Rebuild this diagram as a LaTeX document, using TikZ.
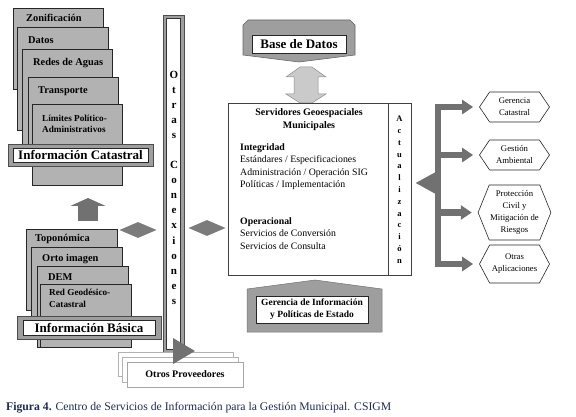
\documentclass[tikz,border=0pt]{standalone}
\usepackage[dvipsnames]{xcolor}
\usepackage{fontspec}
\setmainfont{Liberation Serif}
\usepackage{tikz}
\usetikzlibrary{positioning,calc,arrows.meta}
\usetikzlibrary{shapes.geometric,shapes.symbols}
\definecolor{cardgray}{HTML}{B2B2B2}
\definecolor{bandgray}{HTML}{9E9E9E}
\definecolor{arrowgray}{HTML}{717171}
\definecolor{gemgray}{HTML}{7B7B7B}
\definecolor{palegray}{HTML}{CACACA}
\definecolor{capblue}{HTML}{1F2A55}

\begin{document}
\begin{tikzpicture}[x=1pt,y=-1pt,
  card/.style={draw=black!85,fill=cardgray,line width=0.7pt,anchor=north west,inner sep=0pt},
  cardtext/.style={anchor=west,inner sep=0pt,font=\fontsize{10.4}{11}\selectfont\bfseries},
  smalltext/.style={anchor=west,inner sep=0pt,align=left,font=\fontsize{9.2}{11.5}\selectfont\bfseries},
  band/.style={draw=black!70,fill=bandgray,line width=0.6pt,inner sep=0pt},
  plate/.style={draw=black!85,fill=white,line width=0.6pt,inner sep=0pt,font=\fontsize{13}{14}\selectfont\bfseries},
  gem/.style={diamond,fill=gemgray,inner sep=0pt,minimum width=37pt,minimum height=16pt},
  vletter/.style={anchor=base,inner sep=0pt,font=\fontsize{11}{11}\selectfont\bfseries},
  body/.style={anchor=west,inner sep=0pt,align=left,font=\fontsize{9.8}{12.4}\selectfont},
  branch/.style={draw=arrowgray,line width=6pt,-{Triangle[width=14pt,length=11pt]},shorten >=6pt},
  hexa/.style={signal,signal to=west and east,draw=black!85,line width=0.6pt,fill=white,
    minimum width=70pt,align=center,inner sep=1pt,font=\fontsize{8.7}{12}\selectfont}]
\useasboundingbox (0,0) rectangle (576,417);
\draw[double,double distance=1.8pt,line width=0.5pt] (4,3) rectangle (566,376);

\node[card,minimum width=90pt,minimum height=81pt] (zon) at (13,8) {};
\node[cardtext] (zonlbl) at ($(zon.north west)+(13,10)$) {Zonificación};
\node[card,minimum width=91pt,minimum height=103pt] (dat) at (17,27) {};
\node[cardtext] (datlbl) at ($(dat.north west)+(11,13)$) {Datos};
\node[card,minimum width=90pt,minimum height=97pt] (red) at (22,49) {};
\node[cardtext] (redlbl) at ($(red.north west)+(11,14)$) {Redes de Aguas};
\node[card,minimum width=90pt,minimum height=73pt] (tra) at (28,77) {};
\node[cardtext] (tralbl) at ($(tra.north west)+(10,14)$) {Transporte};
\node[card,minimum width=90pt,minimum height=81pt] (lim) at (32,104) {};
\node[smalltext] (limlbl) at ($(lim.north west)+(10,20)$) {Límites Político-\\Administrativos};
\node[band,minimum width=145pt,minimum height=22pt] (catband) at (80.5,155) {};
\node[plate,minimum width=135pt,minimum height=14pt] (catplate) at (catband) {Información Catastral};

\node[card,minimum width=91pt,minimum height=81pt] (topo) at (26,229) {};
\node[cardtext] (topolbl) at ($(topo.north west)+(9,10)$) {Toponómica};
\node[card,minimum width=91pt,minimum height=69pt] (orto) at (31,247) {};
\node[cardtext] (ortolbl) at ($(orto.north west)+(11,12)$) {Orto imagen};
\node[card,minimum width=91pt,minimum height=81pt] (dem) at (37,266) {};
\node[cardtext] (demlbl) at ($(dem.north west)+(11,11)$) {DEM};
\node[card,minimum width=91pt,minimum height=63pt] (rgc) at (40,284) {};
\node[smalltext] (rgclbl) at ($(rgc.north west)+(9,14.5)$) {Red Geodésico-\\Catastral};
\node[band,minimum width=144pt,minimum height=23pt] (basband) at (89,327.5) {};
\node[plate,minimum width=132pt,minimum height=15pt] (basplate) at (basband) {Información Básica};

\coordinate (upfoot) at (88,221);
\coordinate (uptip) at (88,198);
\draw[draw=arrowgray,line width=20pt,-{Triangle[width=35pt,length=8pt]}] (upfoot) -- (uptip);

\node[gem] (gemleft) at (138,230) {};
\node[gem] (gemmid) at (207,228) {};

\node[band,minimum width=21pt,minimum height=337pt] (bar) at (173.5,183.5) {};
\node[draw=black!80,fill=white,line width=0.5pt,inner sep=0pt,minimum width=14pt,minimum height=331pt] (barin) at (bar) {};
\foreach \ch [count=\i from 0] in {O,t,r,a,s,{},C,o,n,e,x,i,o,n,e,s}
  \node[vletter] (oc\i) at (174,79+15*\i) {\ch};

\node[draw=black!30,fill=white,inner sep=0pt,minimum width=115pt,minimum height=24pt] (prov1) at (175.5,364) {};
\node[draw=black!30,fill=white,inner sep=0pt,minimum width=116pt,minimum height=25pt] (prov2) at (180,369.5) {};
\node[draw=black!35,fill=white,inner sep=0pt,minimum width=116pt,minimum height=25pt,
  font=\fontsize{10}{11}\selectfont\bfseries] (prov3) at (185,374.5) {Otros Proveedores};
\fill[arrowgray] (173,338) -- (195,351) -- (173,364) -- cycle;

\filldraw[fill=bandgray,draw=black!60,line width=0.6pt] (243,25) -- (248,20) -- (350,20) -- (355,25) -- (355,55) -- (299,62) -- (243,55) -- cycle;
\node[plate,minimum width=94pt,minimum height=18pt] (bd) at (299,44) {Base de Datos};

\filldraw[fill=palegray,draw=black!45,line width=0.5pt] (300,67) -- (312,67) -- (326,77) -- (318,77) -- (318,94) -- (326,94) -- (312,103) -- (300,103) -- (286,94) -- (294,94) -- (294,77) -- (286,77) -- cycle;

\node[draw=black!75,line width=0.7pt,inner sep=0pt,minimum width=183pt,minimum height=172pt] (srv) at (319.5,189) {};
\draw[black!75,line width=0.7pt] (388,103) -- (388,275);
\node[inner sep=0pt,align=center,font=\fontsize{10}{12.8}\selectfont\bfseries] (srvtitle) at (309,119.5) {Servidores Geoespaciales\\Municipales};
\node[body] (integ) at (240,166.5) {\textbf{Integridad}\\Estándares / Especificaciones\\Administración / Operación SIG\\Políticas / Implementación};
\node[body] (oper) at (240,233.5) {\textbf{Operacional}\\Servicios de Conversión\\Servicios de Consulta};
\foreach \ch [count=\i from 0] in {A,c,t,u,a,l,i,z,a,c,i,ó,n}
  \node[vletter,font=\fontsize{8.5}{8.5}\selectfont\bfseries] (act\i) at (399.5,122+11.75*\i) {\ch};

\filldraw[fill=bandgray,draw=black!55,line width=0.5pt] (247,332) -- (247,289) -- (315,280) -- (382,289) -- (382,332) -- cycle;
\node[plate,align=center,minimum width=112pt,minimum height=27pt,font=\fontsize{9.5}{12}\selectfont\bfseries] (ger) at (312,309.5) {Gerencia de Información\\y Políticas de Estado};

\node[hexa,minimum height=30pt,signal pointer angle=112] (hcat) at (514.5,107) {Gerencia\\Catastral};
\node[hexa,minimum height=30pt,signal pointer angle=112] (hamb) at (514.5,155) {Gestión\\Ambiental};
\node[hexa,minimum height=55pt,signal pointer angle=136] (hpro) at (514.5,212.5) {Protección\\Civil y\\Mitigación de\\Riesgos};
\node[hexa,minimum height=38pt,signal pointer angle=124] (hotr) at (514.5,264) {Otras\\Aplicaciones};

\coordinate (bus) at (438,183);
\draw[arrowgray,line width=6pt,line cap=rect] (bus |- hcat.west) -- (bus |- hotr.west);
\foreach \h in {hcat,hamb,hpro,hotr}
  \draw[branch] (bus |- \h.west) -- (\h.west);
\draw[draw=arrowgray,line width=6pt,-{Triangle[width=20pt,length=20pt]}] (bus) -- ($(srv.east |- bus)+(4,0)$);

\node[anchor=base west,inner sep=0pt,text=capblue,font=\fontsize{11.7}{13}\selectfont] (caption) at (6,410) {\textbf{Figura 4.} Centro de Servicios de Información para la Gestión Municipal. CSIGM};
\end{tikzpicture}
\end{document}
